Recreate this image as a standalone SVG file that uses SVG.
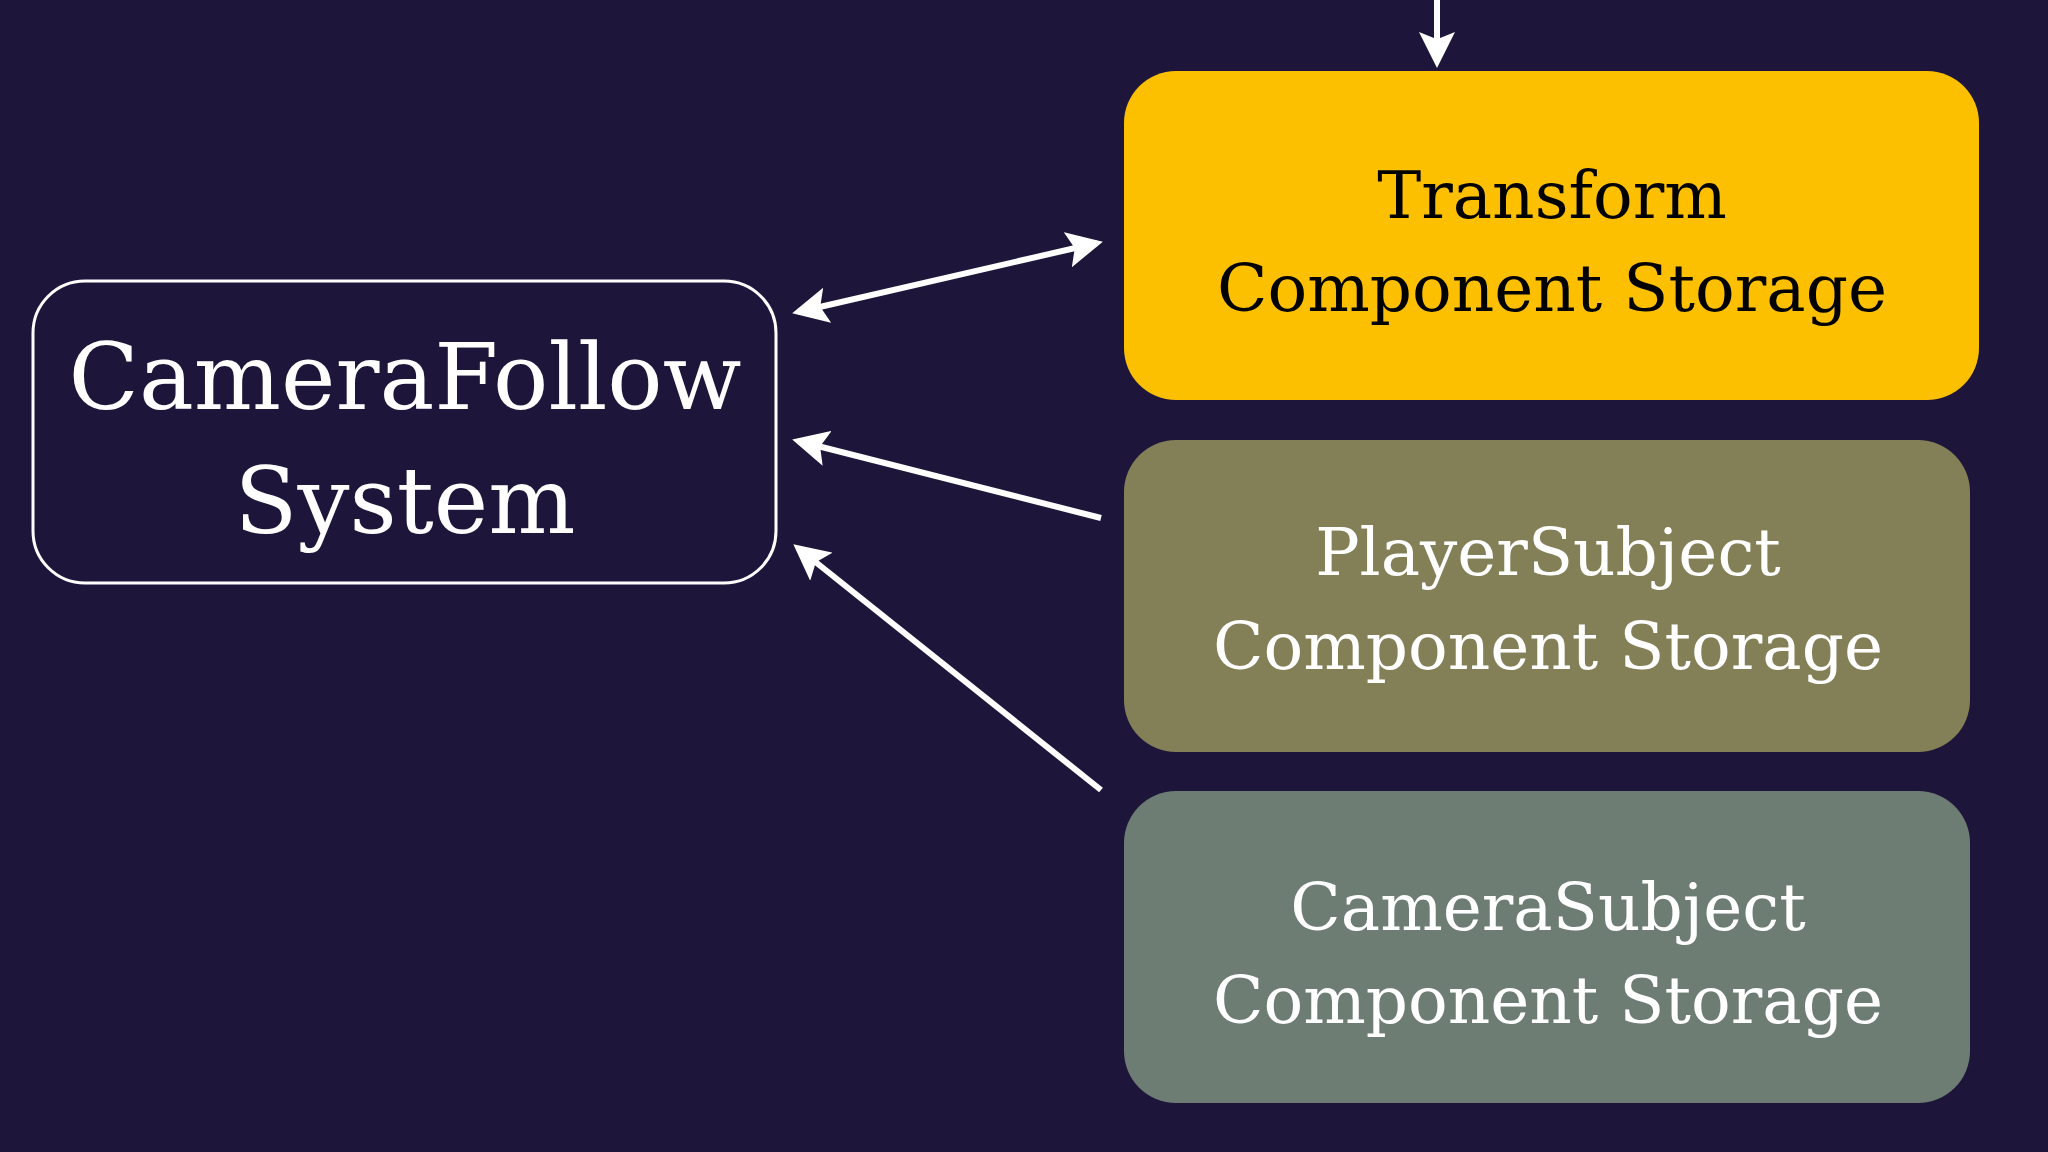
<svg xmlns="http://www.w3.org/2000/svg" width="2048" height="1152" viewBox="0 0 2048 1152">
<style>
.t{font-family:"DejaVu Serif","Liberation Serif",serif;text-anchor:middle}
.c{stroke:#fff;stroke-width:6;fill:none}
</style>
<defs><marker id="a" markerWidth="6" markerHeight="6" refX="5" refY="3" orient="auto-start-reverse" markerUnits="strokeWidth"><path d="M0,0 L6,3 L0,6 L1.2,3 Z" fill="#fff"/></marker></defs>
<rect width="2048" height="1152" fill="#1e163a"/>
<g id="camerafollow"><rect x="33" y="281" width="743" height="302" rx="52" fill="none" stroke="#fff" stroke-width="3"/>
<text class="t" x="405" y="409" font-size="92" fill="#fff">CameraFollow</text>
<text class="t" x="405" y="533" font-size="92" fill="#fff">System</text></g>
<g id="transform"><rect x="1124" y="71" width="855" height="329" rx="52" fill="#fdc000"/>
<text class="t" x="1552" y="218" font-size="66" fill="#000">Transform</text>
<text class="t" x="1552" y="311" font-size="66" fill="#000">Component Storage</text></g>
<g id="player"><rect x="1124" y="440" width="846" height="312" rx="52" fill="#837f56"/>
<text class="t" x="1548" y="575" font-size="66" fill="#fff">PlayerSubject</text>
<text class="t" x="1548" y="669" font-size="66" fill="#fff">Component Storage</text></g>
<g id="camerasubject"><rect x="1124" y="791" width="846" height="312" rx="52" fill="#6e7d74"/>
<text class="t" x="1548" y="930" font-size="66" fill="#fff">CameraSubject</text>
<text class="t" x="1548" y="1023" font-size="66" fill="#fff">Component Storage</text></g>
<g id="connectors">
<line class="c" x1="1437" y1="0" x2="1437" y2="62" marker-end="url(#a)"/>
<line class="c" x1="798" y1="312" x2="1097" y2="243" marker-start="url(#a)" marker-end="url(#a)"/>
<line class="c" x1="1101" y1="518" x2="798" y2="441" marker-end="url(#a)"/>
<line class="c" x1="1101" y1="790" x2="798" y2="548" marker-end="url(#a)"/>
</g>
</svg>
